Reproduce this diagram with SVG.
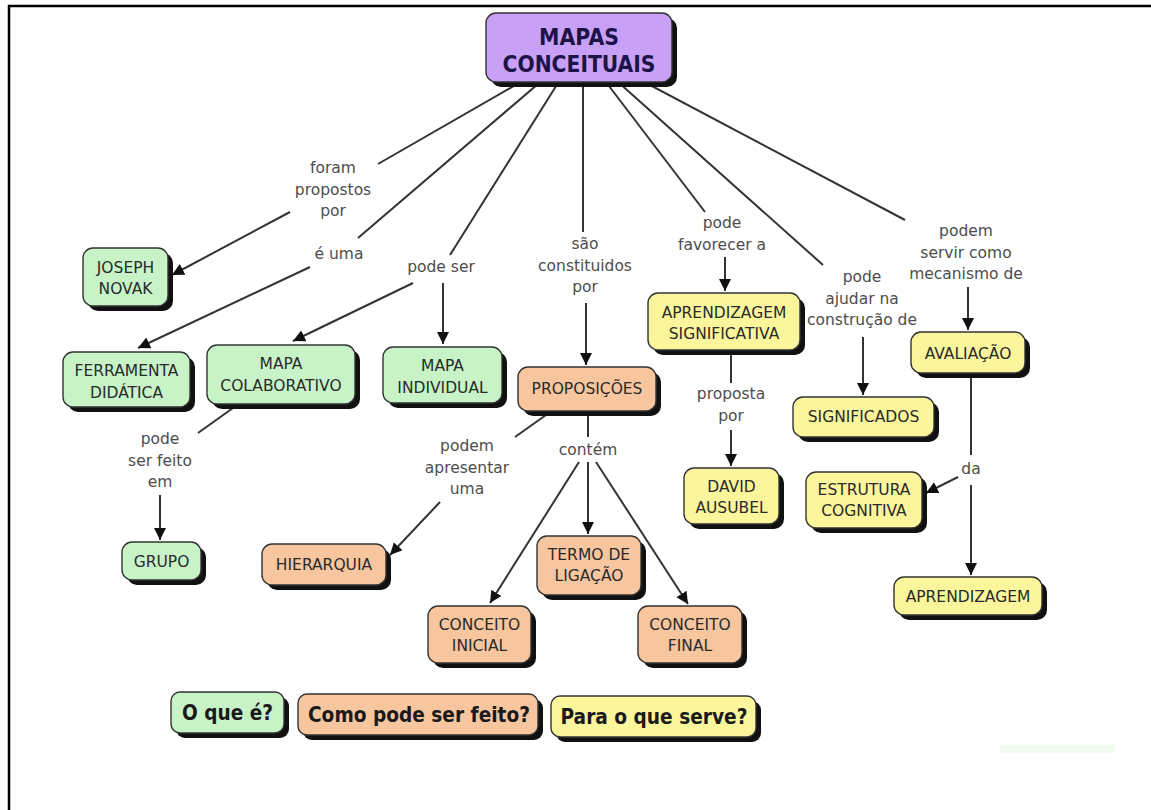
<svg xmlns="http://www.w3.org/2000/svg" width="1151" height="810" viewBox="0 0 1151 810">
<defs>
<marker id="arr" markerUnits="userSpaceOnUse" markerWidth="13" markerHeight="13" refX="12" refY="6" orient="auto">
<path d="M0,0 L12,6 L0,12 z" fill="#111"/>
</marker>
<style>
.sh{fill:#111}
.bx{stroke:#333;stroke-width:1.4}
.g{fill:#c7f3c6}
.o{fill:#f7c69e}
.y{fill:#fbf59c}
.p{fill:#c8a0f5}
.nt{font-family:'DejaVu Sans',Verdana,sans-serif;font-size:15.5px;fill:#2a2a2a;text-anchor:middle}
.lt{font-family:'DejaVu Sans',Verdana,sans-serif;font-size:15.5px;fill:#4d4d4d;text-anchor:middle}
.tt{font-family:'DejaVu Sans',sans-serif;font-weight:bold;font-size:23px;fill:#1c1448;text-anchor:middle}
.gt{font-family:'DejaVu Sans',sans-serif;font-weight:bold;font-size:21px;fill:#1a1a1a;text-anchor:middle}
.ln{stroke:#333;stroke-width:2;fill:none}
.ar{stroke:#333;stroke-width:2;fill:none;marker-end:url(#arr)}
</style>
</defs>
<rect width="1151" height="810" fill="#fff"/>
<path d="M9,810 V6 H1151" fill="none" stroke="#000" stroke-width="2.5"/>
<rect x="1000" y="745" width="115" height="8" fill="#f1fbef"/>

<g id="connectors">
<line class="ln" x1="580" y1="48" x2="378" y2="164"/>
<line class="ln" x1="580" y1="48" x2="358" y2="238"/>
<line class="ln" x1="580" y1="48" x2="450" y2="255"/>
<line class="ln" x1="583" y1="48" x2="583" y2="232"/>
<line class="ln" x1="580" y1="48" x2="705" y2="212"/>
<line class="ln" x1="580" y1="48" x2="823" y2="265"/>
<line class="ln" x1="580" y1="48" x2="905" y2="220"/>
<line class="ar" x1="290" y1="212" x2="172" y2="275"/>
<line class="ar" x1="310" y1="267" x2="138" y2="348"/>
<line class="ar" x1="413" y1="283" x2="293" y2="341"/>
<line class="ar" x1="443" y1="283" x2="443" y2="344"/>
<line class="ar" x1="586" y1="303" x2="586" y2="365"/>
<line class="ar" x1="725" y1="257" x2="725" y2="291"/>
<line class="ar" x1="863" y1="337" x2="863" y2="395"/>
<line class="ar" x1="968" y1="287" x2="968" y2="330"/>
<line class="ln" x1="233" y1="408" x2="198" y2="433"/>
<line class="ar" x1="160" y1="495" x2="160" y2="540"/>
<line class="ln" x1="546" y1="415" x2="515" y2="437"/>
<line class="ar" x1="440" y1="502" x2="390" y2="555"/>
<line class="ln" x1="588" y1="414" x2="588" y2="437"/>
<line class="ar" x1="579" y1="462" x2="490" y2="603"/>
<line class="ar" x1="588" y1="462" x2="588" y2="534"/>
<line class="ar" x1="596" y1="462" x2="688" y2="604"/>
<line class="ln" x1="731" y1="352" x2="731" y2="383"/>
<line class="ar" x1="731" y1="430" x2="731" y2="466"/>
<line class="ln" x1="971" y1="376" x2="971" y2="455"/>
<line class="ar" x1="958" y1="477" x2="926" y2="493"/>
<line class="ar" x1="971" y1="485" x2="971" y2="575"/>
</g>

<g id="labels">
<text class="lt" x="333" y="173">foram</text>
<text class="lt" x="333" y="195">propostos</text>
<text class="lt" x="333" y="216">por</text>
<text class="lt" x="339" y="259">é uma</text>
<text class="lt" x="441" y="272">pode ser</text>
<text class="lt" x="585" y="249">são</text>
<text class="lt" x="585" y="271">constituidos</text>
<text class="lt" x="585" y="292">por</text>
<text class="lt" x="722" y="228">pode</text>
<text class="lt" x="722" y="250">favorecer a</text>
<text class="lt" x="862" y="282">pode</text>
<text class="lt" x="862" y="304">ajudar na</text>
<text class="lt" x="862" y="325">construção de</text>
<text class="lt" x="966" y="236">podem</text>
<text class="lt" x="966" y="258">servir como</text>
<text class="lt" x="966" y="279">mecanismo de</text>
<text class="lt" x="731" y="399">proposta</text>
<text class="lt" x="731" y="421">por</text>
<text class="lt" x="971" y="474">da</text>
<text class="lt" x="160" y="444">pode</text>
<text class="lt" x="160" y="466">ser feito</text>
<text class="lt" x="160" y="487">em</text>
<text class="lt" x="467" y="451">podem</text>
<text class="lt" x="467" y="473">apresentar</text>
<text class="lt" x="467" y="494">uma</text>
<text class="lt" x="588" y="455">contém</text>
</g>

<g id="n-mapas">
<rect class="sh" x="491" y="18" width="186" height="69" rx="10"/>
<rect class="bx p" x="486" y="13" width="186" height="69" rx="10"/>
<text class="tt" x="579" y="45" textLength="80" lengthAdjust="spacingAndGlyphs">MAPAS</text>
<text class="tt" x="579" y="72" textLength="153" lengthAdjust="spacingAndGlyphs">CONCEITUAIS</text>
</g>
<g id="n-joseph">
<rect class="sh" x="88" y="253" width="85" height="58" rx="10"/>
<rect class="bx g" x="83" y="248" width="85" height="58" rx="10"/>
<text class="nt" x="125.5" y="272.5">JOSEPH</text>
<text class="nt" x="125.5" y="293.5">NOVAK</text>
</g>
<g id="n-ferramenta">
<rect class="sh" x="68" y="357" width="127" height="55" rx="10"/>
<rect class="bx g" x="63" y="352" width="127" height="55" rx="10"/>
<text class="nt" x="126.5" y="375.5">FERRAMENTA</text>
<text class="nt" x="126.5" y="397.5">DIDÁTICA</text>
</g>
<g id="n-colaborativo">
<rect class="sh" x="212" y="350" width="148" height="59" rx="10"/>
<rect class="bx g" x="207" y="345" width="148" height="59" rx="10"/>
<text class="nt" x="281" y="368.5">MAPA</text>
<text class="nt" x="281" y="390.5">COLABORATIVO</text>
</g>
<g id="n-individual">
<rect class="sh" x="388" y="352" width="119" height="56" rx="10"/>
<rect class="bx g" x="383" y="347" width="119" height="56" rx="10"/>
<text class="nt" x="442.5" y="370.5">MAPA</text>
<text class="nt" x="442.5" y="392.5">INDIVIDUAL</text>
</g>
<g id="n-proposicoes">
<rect class="sh" x="523" y="372" width="138" height="44" rx="10"/>
<rect class="bx o" x="518" y="367" width="138" height="44" rx="10"/>
<text class="nt" x="587" y="394">PROPOSIÇÕES</text>
</g>
<g id="n-aprendsig">
<rect class="sh" x="653" y="298" width="152" height="57" rx="10"/>
<rect class="bx y" x="648" y="293" width="152" height="57" rx="10"/>
<text class="nt" x="724" y="317.5">APRENDIZAGEM</text>
<text class="nt" x="724" y="338.5">SIGNIFICATIVA</text>
</g>
<g id="n-significados">
<rect class="sh" x="798" y="402" width="141" height="40" rx="10"/>
<rect class="bx y" x="793" y="397" width="141" height="40" rx="10"/>
<text class="nt" x="863.5" y="422">SIGNIFICADOS</text>
</g>
<g id="n-avaliacao">
<rect class="sh" x="916" y="337" width="114" height="41" rx="10"/>
<rect class="bx y" x="911" y="332" width="114" height="41" rx="10"/>
<text class="nt" x="968" y="358.5">AVALIAÇÃO</text>
</g>
<g id="n-david">
<rect class="sh" x="689" y="473" width="95" height="56" rx="10"/>
<rect class="bx y" x="684" y="468" width="95" height="56" rx="10"/>
<text class="nt" x="731.5" y="491.5">DAVID</text>
<text class="nt" x="731.5" y="512.5">AUSUBEL</text>
</g>
<g id="n-estrutura">
<rect class="sh" x="811" y="477" width="116" height="56" rx="10"/>
<rect class="bx y" x="806" y="472" width="116" height="56" rx="10"/>
<text class="nt" x="864" y="494.5">ESTRUTURA</text>
<text class="nt" x="864" y="515.5">COGNITIVA</text>
</g>
<g id="n-aprendizagem">
<rect class="sh" x="899" y="582" width="148" height="38" rx="10"/>
<rect class="bx y" x="894" y="577" width="148" height="38" rx="10"/>
<text class="nt" x="968" y="601.5">APRENDIZAGEM</text>
</g>
<g id="n-grupo">
<rect class="sh" x="127" y="547" width="79" height="38" rx="10"/>
<rect class="bx g" x="122" y="542" width="79" height="38" rx="10"/>
<text class="nt" x="161.5" y="566.5">GRUPO</text>
</g>
<g id="n-hierarquia">
<rect class="sh" x="267" y="549" width="124" height="41" rx="10"/>
<rect class="bx o" x="262" y="544" width="124" height="41" rx="10"/>
<text class="nt" x="324" y="570">HIERARQUIA</text>
</g>
<g id="n-termo">
<rect class="sh" x="542" y="541" width="104" height="59" rx="10"/>
<rect class="bx o" x="537" y="536" width="104" height="59" rx="10"/>
<text class="nt" x="589" y="559.5">TERMO DE</text>
<text class="nt" x="589" y="581">LIGAÇÃO</text>
</g>
<g id="n-inicial">
<rect class="sh" x="433" y="611" width="103" height="57" rx="10"/>
<rect class="bx o" x="428" y="606" width="103" height="57" rx="10"/>
<text class="nt" x="479.5" y="629.5">CONCEITO</text>
<text class="nt" x="479.5" y="650.5">INICIAL</text>
</g>
<g id="n-final">
<rect class="sh" x="643" y="611" width="104" height="57" rx="10"/>
<rect class="bx o" x="638" y="606" width="104" height="57" rx="10"/>
<text class="nt" x="690" y="629.5">CONCEITO</text>
<text class="nt" x="690" y="650.5">FINAL</text>
</g>

<g id="legend-oque">
<rect class="sh" x="176" y="697" width="113" height="41" rx="9"/>
<rect class="bx g" x="171" y="692" width="113" height="41" rx="9"/>
<text class="gt" x="227.5" y="720" textLength="91" lengthAdjust="spacingAndGlyphs">O que é?</text>
</g>
<g id="legend-como">
<rect class="sh" x="303" y="699" width="240" height="41" rx="9"/>
<rect class="bx o" x="298" y="694" width="240" height="41" rx="9"/>
<text class="gt" x="419" y="722" textLength="222" lengthAdjust="spacingAndGlyphs">Como pode ser feito?</text>
</g>
<g id="legend-para">
<rect class="sh" x="556" y="701" width="205" height="41" rx="9"/>
<rect class="bx y" x="551" y="696" width="205" height="41" rx="9"/>
<text class="gt" x="654" y="724" textLength="187" lengthAdjust="spacingAndGlyphs">Para o que serve?</text>
</g>
</svg>
